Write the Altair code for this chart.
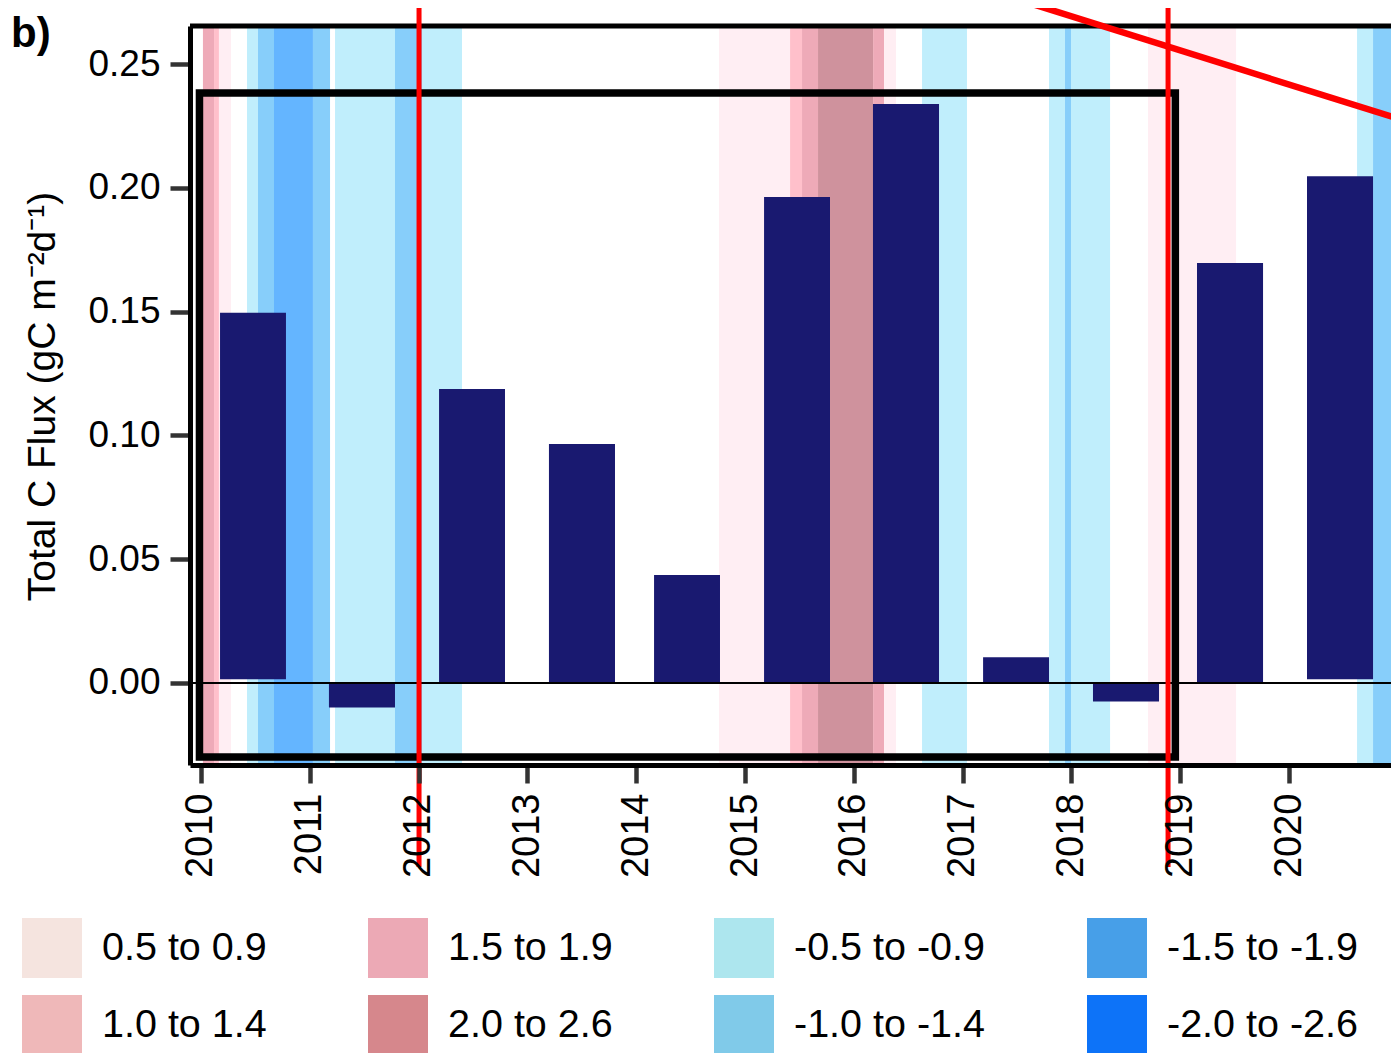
import altair as alt
import pandas as pd

# ---------------- data ----------------
# annual bars (decimal-year extent of each sampling period) and total C flux
bar_year = list(range(2010, 2021))
bar_start = [2010.175, 2011.176, 2012.188, 2013.198, 2014.164, 2015.175,
             2016.176, 2017.188, 2018.198, 2019.154, 2020.165]
bar_end = [2010.781, 2011.783, 2012.794, 2013.805, 2014.770, 2015.781,
           2016.783, 2017.794, 2018.805, 2019.761, 2020.772]
flux_top = [0.1495, -0.0099, 0.1187, 0.0965, 0.0436, 0.1963,
            0.2338, 0.0104, -0.0075, 0.1696, 0.2047]
flux_base = [0.0015, 0.0, 0.0, 0.0, 0.0, 0.0, 0.0, 0.0, 0.0, 0.0, 0.0015]

# ONI (ENSO) category bands
band_start = [2010.018, 2010.120, 2010.165, 2010.423, 2010.524, 2010.671,
              2011.029, 2011.232, 2011.783, 2012.031, 2014.761, 2015.414,
              2015.524, 2015.671, 2016.177, 2016.278, 2016.627, 2017.794,
              2017.941, 2017.996, 2018.704, 2020.625, 2020.772]
band_end = [2010.120, 2010.165, 2010.276, 2010.524, 2010.671, 2011.029,
            2011.186, 2011.783, 2012.031, 2012.399, 2015.414, 2015.524,
            2015.671, 2016.177, 2016.278, 2016.388, 2017.040, 2017.941,
            2017.996, 2018.355, 2019.513, 2020.772, 2021.050]
band_cat = ["1.5 to 1.9", "1.0 to 1.4", "0.5 to 0.9", "-0.5 to -0.9",
            "-1.0 to -1.4", "-1.5 to -1.9", "-1.0 to -1.4", "-0.5 to -0.9",
            "-1.0 to -1.4", "-0.5 to -0.9", "0.5 to 0.9", "1.0 to 1.4",
            "1.5 to 1.9", "2.0 to 2.6", "1.5 to 1.9", "0.5 to 0.9",
            "-0.5 to -0.9", "-0.5 to -0.9", "-1.0 to -1.4", "-0.5 to -0.9",
            "0.5 to 0.9", "-0.5 to -0.9", "-1.0 to -1.4"]

categories = ["0.5 to 0.9", "1.0 to 1.4", "1.5 to 1.9", "2.0 to 2.6",
              "-0.5 to -0.9", "-1.0 to -1.4", "-1.5 to -1.9", "-2.0 to -2.6"]
band_colors = ["#FFEEF3", "#FFC0CB", "#EEAAB8", "#CF929D",
               "#C0EEFC", "#87CEFA", "#64B5FF", "#1E90FF"]
legend_colors = ["#F5E4DF", "#EFB8B9", "#ECA9B5", "#D6878C",
                 "#ADE6EE", "#80CAE9", "#479FE8", "#0D73F8"]

x_ticks = list(range(2010, 2021))
y_ticks = [0.0, 0.05, 0.10, 0.15, 0.20, 0.25]

# annotation geometry (data units)
red_vline_x = [2012.004, 2018.888]
red_vline_y = [0.2759, -0.0743]
red_diag = [2017.518, 0.2759, 2021.011, 0.2278]
box = [2009.986, -0.0299, 2018.955, 0.2383]

XMIN, XMAX = 2009.899, 2020.937
YMIN, YMAX = -0.03312, 0.26535
W, H = 1201, 739
FONT = "Liberation Sans"

# ---------------- frames ----------------
bars_df = pd.DataFrame({"year": bar_year, "start": bar_start, "end": bar_end,
                        "top": flux_top, "base": flux_base})
bands_df = pd.DataFrame({"start": band_start, "end": band_end, "cat": band_cat})
legend_df = pd.DataFrame({"cat": categories})
red_df = pd.DataFrame({"x": red_vline_x})
one = pd.DataFrame({"k": [0]})

xscale = alt.Scale(domain=[XMIN, XMAX], nice=False, zero=False)
yscale = alt.Scale(domain=[YMIN, YMAX], nice=False, zero=False)

xaxis = alt.Axis(values=x_ticks, format="d", labelAngle=270, title=None,
                 labelFontSize=38, labelPadding=10, tickSize=18, tickWidth=4.5,
                 tickColor="#333333", domainColor="black", domainWidth=5,
                 labelColor="black", grid=False, labelOverlap=False,
                 labelFlush=False, zindex=1)
yaxis = alt.Axis(values=y_ticks, format=".2f",
                 title="Total C Flux (gC m\u207b\u00b2d\u207b\u00b9)",
                 labelFontSize=37, labelPadding=10, tickSize=20, tickWidth=4.5,
                 tickColor="#333333", domainColor="black", domainWidth=5,
                 labelColor="black", grid=False, labelOverlap=False,
                 labelFlush=False, titleFontSize=39, titleFontWeight="normal",
                 titleColor="black", titleX=-136, titleY=370,
                 titleAlign="center", titleBaseline="alphabetic", zindex=1)

bands = alt.Chart(bands_df).mark_rect(clip=True).encode(
    x=alt.X("start:Q", scale=xscale, axis=xaxis),
    x2="end:Q",
    y=alt.Y(datum=YMAX, scale=yscale, axis=yaxis),
    y2=alt.Y2(datum=YMIN),
    fill=alt.Fill("cat:N", scale=alt.Scale(domain=categories, range=band_colors),
                  legend=None),
)

bars = alt.Chart(bars_df).mark_rect(color="#191970").encode(
    x="start:Q", x2="end:Q", y="top:Q", y2="base:Q",
)

zero = alt.Chart(one).mark_rule(color="black", strokeWidth=1.8).encode(
    x=alt.datum(XMIN), x2=alt.datum(XMAX), y=alt.datum(0.0),
)

inner = alt.Chart(one).mark_rect(filled=False, stroke="black", strokeWidth=7.5).encode(
    x=alt.datum(box[0]), x2=alt.datum(box[2]),
    y=alt.datum(box[3]), y2=alt.datum(box[1]),
)

topframe = alt.Chart(one).mark_rule(color="black", strokeWidth=5, clip=False).encode(
    x=alt.datum(XMIN), x2=alt.datum(XMAX), y=alt.datum(YMAX),
)

redv = alt.Chart(red_df).mark_rule(color="#FF0000", strokeWidth=5, clip=False).encode(
    x="x:Q", y=alt.datum(red_vline_y[0]), y2=alt.datum(red_vline_y[1]),
)

diag = alt.Chart(one).mark_rule(color="#FF0000", strokeWidth=6.5, clip=False).encode(
    x=alt.datum(red_diag[0]), y=alt.datum(red_diag[1]),
    x2=alt.datum(red_diag[2]), y2=alt.datum(red_diag[3]),
)

blabel = alt.Chart(pd.DataFrame({"t": ["b)"]})).mark_text(
    align="left", baseline="alphabetic", fontSize=42, fontWeight="bold",
    font=FONT, color="black",
).encode(text="t:N", x=alt.value(-179), y=alt.value(21))

legend_layer = alt.Chart(legend_df).mark_square(opacity=0, size=1).encode(
    color=alt.Color("cat:N", scale=alt.Scale(domain=categories, range=legend_colors),
                    sort=categories,
                    legend=alt.Legend(title=None, orient="none", legendX=-168,
                                      legendY=892, columns=4, symbolType="square",
                                      symbolSize=3600, symbolStrokeWidth=0,
                                      symbolOpacity=1, labelFontSize=39.5,
                                      labelFont=FONT, labelColor="black",
                                      labelOffset=20, labelLimit=0,
                                      rowPadding=17, columnPadding=101,
                                      padding=0)),
)

chart = alt.layer(bands, bars, zero, inner, topframe, redv, diag, blabel,
                  legend_layer).resolve_scale(
    color="independent", fill="independent"
).properties(
    width=W, height=H,
    padding={"left": 182, "top": 18, "right": 0, "bottom": 290},
    autosize=alt.AutoSizeParams(type="none"),
).configure_view(stroke=None).configure(font=FONT, background="white")

chart.save("out.html", embed_options={"renderer": "svg", "actions": False})
